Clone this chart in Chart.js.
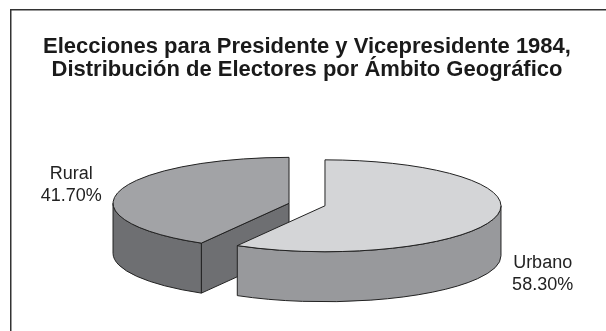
<!DOCTYPE html>
<html>
<head>
<meta charset="utf-8">
<script src="https://cdn.jsdelivr.net/npm/chart.js@4.4.1/dist/chart.umd.min.js"></script>
<style>
  html, body { margin: 0; padding: 0; background: #fff; }
  #wrap { position: relative; width: 606px; height: 331px; overflow: hidden; }
</style>
</head>
<body>
<div id="wrap"><canvas id="chart-area" width="606" height="331"></canvas></div>
<script>
  'use strict';

  var titleLines = [
    'Elecciones para Presidente y Vicepresidente 1984,',
    'Distribución de Electores por Ámbito Geográfico'
  ];
  var categories = ['Urbano', 'Rural'];
  var values = [58.30, 41.70];

  var topColors = ['#d4d5d7', '#a2a3a6'];
  var sideColors = ['#98999c', '#6e6f72'];
  var edgeColor = '#222222';
  var squash = 0.261;   // vertical flattening of the pie
  var depth = 50;       // thickness of the pie in px
  var explode = 18.6;   // distance each slice is pulled out

  var fontFamily = "'Liberation Sans', Arial, sans-serif";

  function centerOf(chart) {
    var a = chart.chartArea;
    return {x: (a.left + a.right) / 2, y: (a.top + a.bottom) / 2};
  }

  // screen position of a slice's (squashed) centre
  function screenCenter(chart, arc) {
    var c = centerOf(chart);
    return {x: arc.x, y: c.y + (arc.y - c.y) * squash};
  }

  function rim(s, r, t, dy) {
    return {x: s.x + r * Math.cos(t), y: s.y + r * squash * Math.sin(t) + (dy || 0)};
  }

  var pie3d = {
    id: 'pie3d',
    beforeDraw: function (chart) {
      var ctx = chart.ctx;
      ctx.save();
      ctx.strokeStyle = '#333';
      ctx.lineWidth = 1.5;
      ctx.strokeRect(10.75, 9.75, 700, 400);
      ctx.restore();
    },
    afterDatasetsUpdate: function (chart) {
      var c = centerOf(chart);
      chart.getDatasetMeta(0).data.forEach(function (arc) {
        var mid = (arc.startAngle + arc.endAngle) / 2;
        arc.x = c.x + Math.cos(mid) * explode;
        arc.y = c.y + Math.sin(mid) * explode;
      });
    },
    beforeDatasetsDraw: function (chart) {
      var ctx = chart.ctx;
      var c = centerOf(chart);
      var arcs = chart.getDatasetMeta(0).data.map(function (arc, i) { return {arc: arc, i: i}; });
      arcs.sort(function (a, b) { return screenCenter(chart, a.arc).y - screenCenter(chart, b.arc).y; });

      ctx.save();
      ctx.strokeStyle = edgeColor;
      ctx.lineWidth = 1;
      ctx.lineJoin = 'round';
      arcs.forEach(function (o) {
        var arc = o.arc, r = arc.outerRadius;
        var s = screenCenter(chart, arc);
        var st = arc.startAngle, en = arc.endAngle;
        ctx.fillStyle = sideColors[o.i];

        // radial cut faces
        var faces = [];
        if (Math.cos(st) < -0.01) faces.push(st);
        if (Math.cos(en) > 0.01) faces.push(en);
        faces.forEach(function (t) {
          var p = rim(s, r, t);
          ctx.beginPath();
          ctx.moveTo(s.x, s.y);
          ctx.lineTo(p.x, p.y);
          ctx.lineTo(p.x, p.y + depth);
          ctx.lineTo(s.x, s.y + depth);
          ctx.closePath();
          ctx.fill();
          ctx.stroke();
        });

        // outer curved wall, only the front half is visible
        [-2 * Math.PI, 0, 2 * Math.PI].forEach(function (k) {
          var a = Math.max(st, k), b = Math.min(en, k + Math.PI);
          if (b <= a) return;
          ctx.beginPath();
          ctx.ellipse(s.x, s.y, r, r * squash, 0, a, b, false);
          ctx.ellipse(s.x, s.y + depth, r, r * squash, 0, b, a, true);
          ctx.closePath();
          ctx.fill();
          ctx.stroke();
        });
      });
      ctx.restore();

      // flatten the tops the library draws
      ctx.save();
      ctx.translate(c.x, c.y);
      ctx.scale(1, squash);
      ctx.translate(-c.x, -c.y);
    },
    afterDatasetsDraw: function (chart) {
      var ctx = chart.ctx;
      ctx.restore();

      ctx.save();
      ctx.strokeStyle = edgeColor;
      ctx.lineWidth = 1;
      ctx.lineJoin = 'round';
      chart.getDatasetMeta(0).data.forEach(function (arc) {
        var s = screenCenter(chart, arc), r = arc.outerRadius;
        var p = rim(s, r, arc.startAngle);
        ctx.beginPath();
        ctx.moveTo(s.x, s.y);
        ctx.lineTo(p.x, p.y);
        ctx.ellipse(s.x, s.y, r, r * squash, 0, arc.startAngle, arc.endAngle, false);
        ctx.closePath();
        ctx.stroke();
      });

      // labels outside each slice
      ctx.fillStyle = '#222';
      ctx.font = '18px ' + fontFamily;
      ctx.textAlign = 'center';
      ctx.textBaseline = 'middle';
      chart.getDatasetMeta(0).data.forEach(function (arc, i) {
        var s = screenCenter(chart, arc), r = arc.outerRadius;
        var t = (arc.startAngle + arc.endAngle) / 2 + 3 * Math.PI / 180;
        var p = rim(s, r * 1.3, t, Math.sin(t) > 0 ? depth : 0);
        ctx.fillText(categories[i], p.x, p.y - 11);
        ctx.fillText(values[i].toFixed(2) + '%', p.x, p.y + 11);
      });
      ctx.restore();
    }
  };

  var ctx = document.getElementById('chart-area').getContext('2d');
  window.pieChart = new Chart(ctx, {
    type: 'pie',
    data: {
      labels: categories,
      datasets: [{
        data: values,
        backgroundColor: topColors,
        borderWidth: 0,
        clip: false
      }]
    },
    options: {
      responsive: false,
      animation: false,
      events: [],
      radius: 176,
      layout: {padding: {left: 8, right: 0, top: 0, bottom: 13}},
      plugins: {
        legend: {display: false},
        tooltip: {enabled: false},
        title: {
          display: true,
          text: titleLines,
          color: '#1a1a1a',
          font: {family: fontFamily, size: 22, weight: 'bold', lineHeight: 1.07},
          padding: {top: 35, bottom: 9}
        }
      }
    },
    plugins: [pie3d]
  });
</script>
</body>
</html>
